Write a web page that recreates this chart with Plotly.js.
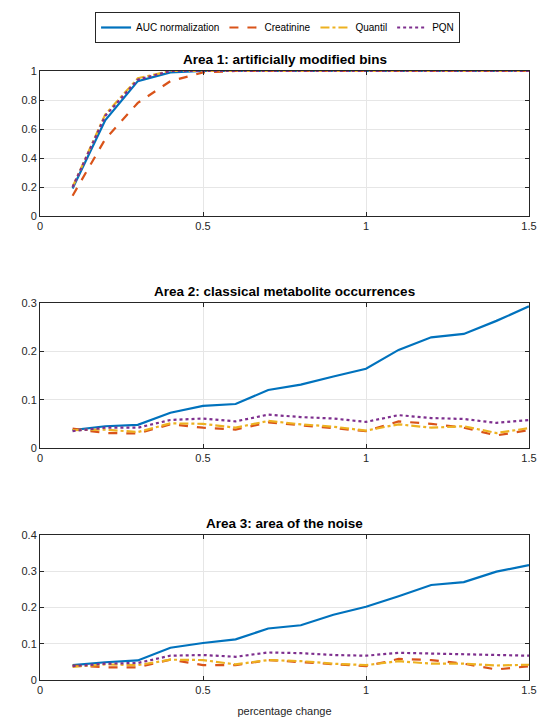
<!DOCTYPE html>
<html><head><meta charset="utf-8">
<script src="https://cdn.plot.ly/plotly-3.0.1.min.js"></script>
<style>html,body{margin:0;padding:0;background:#fff}#chart{width:540px;height:720px}</style>
</head><body><div id="chart"></div>
<script>
const x = [0.1,0.2,0.3,0.4,0.5,0.6,0.7,0.8,0.9,1.0,1.1,1.2,1.3,1.4,1.5];
const seriesNames = ["AUC normalization","Creatinine","Quantil","PQN"];
const titles = ["Area 1: artificially modified bins","Area 2: classical metabolite occurrences","Area 3: area of the noise"];
const xTitle = "percentage change";

const area1_auc  = [0.19,0.66,0.93,0.99,1,1,1,1,1,1,1,1,1,1,1];
const area1_crea = [0.14,0.53,0.78,0.93,0.99,1,1,1,1,1,1,1,1,1,1];
const area1_quan = [0.20,0.70,0.95,1,1,1,1,1,1,1,1,1,1,1,1];
const area1_pqn  = [0.20,0.69,0.94,1,1,1,1,1,1,1,1,1,1,1,1];

const area2_auc  = [0.037,0.045,0.048,0.073,0.087,0.091,0.120,0.131,0.148,0.164,0.203,0.229,0.236,0.263,0.293];
const area2_crea = [0.040,0.031,0.030,0.049,0.042,0.038,0.053,0.047,0.042,0.035,0.055,0.050,0.042,0.026,0.037];
const area2_quan = [0.037,0.038,0.033,0.051,0.050,0.042,0.056,0.049,0.044,0.036,0.049,0.042,0.045,0.031,0.041];
const area2_pqn  = [0.035,0.042,0.042,0.058,0.061,0.055,0.069,0.064,0.061,0.054,0.068,0.062,0.060,0.052,0.058];

const area3_auc  = [0.041,0.049,0.054,0.089,0.102,0.112,0.142,0.151,0.180,0.202,0.231,0.262,0.270,0.299,0.317];
const area3_crea = [0.040,0.035,0.035,0.056,0.041,0.041,0.055,0.050,0.045,0.038,0.058,0.055,0.045,0.029,0.038];
const area3_quan = [0.036,0.043,0.041,0.056,0.055,0.043,0.055,0.052,0.045,0.041,0.052,0.045,0.045,0.040,0.042];
const area3_pqn  = [0.038,0.045,0.047,0.067,0.069,0.064,0.076,0.074,0.069,0.067,0.075,0.073,0.071,0.067,0.067];

const colors = ["#0072BD","#D95319","#EDB120","#7E2F8E"];
const dashes = ["solid","dash","dashdot","dot"];
const areas = [
  [area1_auc,area1_crea,area1_quan,area1_pqn],
  [area2_auc,area2_crea,area2_quan,area2_pqn],
  [area3_auc,area3_crea,area3_quan,area3_pqn]
];
const traces = [];
areas.forEach((arr,ai)=>{
  arr.forEach((ys,si)=>{
    traces.push({
      x:x, y:ys, type:'scatter', mode:'lines',
      name:seriesNames[si], showlegend: ai===0,
      line:{color:colors[si], width:2.2, dash:dashes[si]},
      xaxis: ai===0?'x':'x'+(ai+1), yaxis: ai===0?'y':'y'+(ai+1),
      hoverinfo:'skip'
    });
  });
});
const W=540,H=720;
const L=40,R=529;
const boxes=[[71,216],[303,448],[535,680]];
const ranges=[[0,1],[0,0.3],[0,0.4]];
const dticks=[0.2,0.1,0.1];
const font={family:'Liberation Sans, Arial, sans-serif', size:11, color:'#262626'};
const layout={
  width:W,height:H,margin:{l:0,r:0,t:0,b:0},
  paper_bgcolor:'#fff',plot_bgcolor:'#fff',
  font:font, showlegend:true,
  legend:{orientation:'h',x:0.514,xanchor:'center',y:1-12/720,yanchor:'top',
    bordercolor:'#262626',borderwidth:1,bgcolor:'#fff',font:{family:font.family,size:10,color:'#000'},
    itemwidth:30, tracegroupgap:0},
  annotations:[]
};
boxes.forEach((b,i)=>{
  const sx = i===0?'':(i+1);
  layout['xaxis'+sx]={domain:[L/W,R/W],range:[0,1.5],dtick:0.5,tick0:0,
    anchor:'y'+sx,showline:true,mirror:'allticks',linecolor:'#262626',linewidth:1,
    ticks:'inside',ticklen:4,tickcolor:'#262626',showgrid:true,gridcolor:'#e6e6e6',
    zeroline:false,tickfont:font,fixedrange:true,
    title: i===2?{text:xTitle,font:{family:font.family,size:11,color:'#262626'},standoff:12}:undefined};
  layout['yaxis'+sx]={domain:[1-b[1]/H,1-b[0]/H],range:ranges[i],dtick:dticks[i],tick0:0,
    anchor:'x'+sx,showline:true,mirror:'allticks',linecolor:'#262626',linewidth:1,
    ticks:'inside',ticklen:4,tickcolor:'#262626',showgrid:true,gridcolor:'#e6e6e6',
    zeroline:false,tickfont:font,fixedrange:true};
  layout.annotations.push({text:'<b>'+titles[i]+'</b>',xref:'paper',yref:'paper',
    x:(L+R)/2/W,xanchor:'center',y:1-(b[0]-2)/H,yanchor:'bottom',showarrow:false,
    font:{family:font.family,size:13.5,color:'#000'}});
});
Plotly.newPlot('chart',traces,layout,{displayModeBar:false,staticPlot:true});
</script></body></html>
